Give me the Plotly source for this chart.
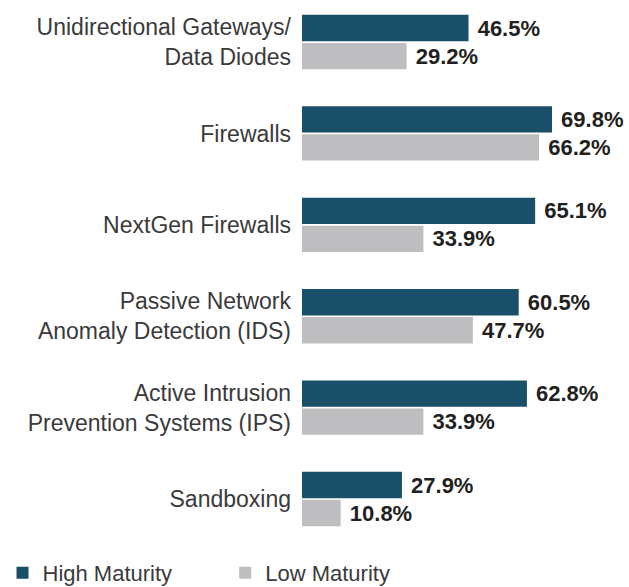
import plotly.graph_objects as go

categories = [
    "Unidirectional Gateways/<br>Data Diodes",
    "Firewalls",
    "NextGen Firewalls",
    "Passive Network<br>Anomaly Detection (IDS)",
    "Active Intrusion<br>Prevention Systems (IPS)",
    "Sandboxing",
]
high_maturity = [46.5, 69.8, 65.1, 60.5, 62.8, 27.9]
low_maturity = [29.2, 66.2, 33.9, 47.7, 33.9, 10.8]
series_names = ["High Maturity", "Low Maturity"]
colors = ["#1a4f69", "#bebec0"]
legend_ids = ["legend", "legend2"]

fig = go.Figure()
for name, vals, col, lg in zip(series_names, [high_maturity, low_maturity], colors, legend_ids):
    fig.add_trace(go.Bar(
        y=categories, x=vals, name=name, orientation="h", legend=lg,
        marker=dict(color=col, line=dict(width=0)),
        text=vals, texttemplate="\u00a0%{x:.1f}%", textposition="outside",
        textfont=dict(family="Liberation Sans, Arial, sans-serif", size=22, color="#231f20", weight="bold"),
        constraintext="none", cliponaxis=False,
    ))

legend_common = dict(orientation="h", xref="container", yref="container", yanchor="middle", xanchor="left",
                     y=0.024, font=dict(size=22, color="#3a3a3a"), itemclick=False,
                     bgcolor="rgba(0,0,0,0)")

fig.update_layout(
    width=629, height=587,
    margin=dict(l=302, r=0, t=0, b=42, autoexpand=False),
    paper_bgcolor="white", plot_bgcolor="white",
    barmode="group", bargap=0.387, bargroupgap=0.06,
    font=dict(family="Liberation Sans, Arial, sans-serif", size=23, color="#3a3a3a"),
    xaxis=dict(range=[0, 91.3], visible=False, fixedrange=True),
    yaxis=dict(categoryorder="array", categoryarray=categories, range=[5.503, -0.46],
               autorange=False, showgrid=False, zeroline=False, showline=False,
               ticks="", ticklabelstandoff=10, automargin=False, fixedrange=True,
               tickfont=dict(size=23, color="#3a3a3a")),
    showlegend=True,
    legend=dict(x=0.004, **legend_common),
    legend2=dict(x=0.358, **legend_common),
)

fig.write_html("out.html", config={"displayModeBar": False},
               post_script="document.body.style.margin='0px';")
